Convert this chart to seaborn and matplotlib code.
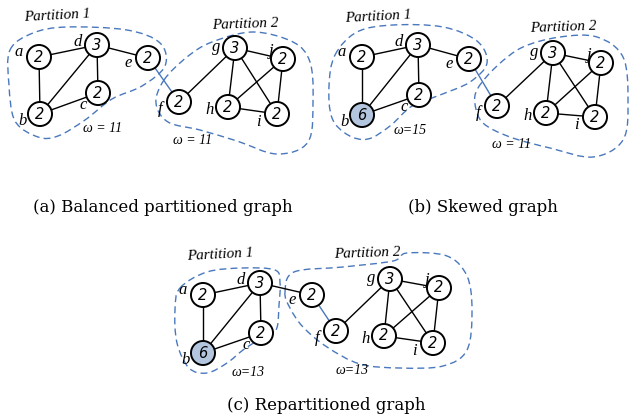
"""
Three small partitioned graphs: balanced, skewed, repartitioned.
Drawn on one pixel-scaled axes (0..630 x 0..417).
"""
import numpy as np
import pandas as pd
import matplotlib
matplotlib.use('Agg')
import matplotlib.pyplot as plt
from matplotlib.path import Path
from matplotlib.patches import PathPatch
import seaborn as sns

# ---- graph data -----------------------------------------------------------
NODES = ["a", "b", "c", "d", "e", "f", "g", "h", "i", "j"]
EDGES = [("a", "d"), ("a", "b"), ("b", "d"), ("b", "c"), ("d", "c"), ("d", "e"),
         ("e", "f"), ("f", "g"), ("g", "j"), ("g", "h"), ("g", "i"),
         ("j", "h"), ("j", "i"), ("h", "i")]
CUT_EDGE = ("e", "f")

weights_balanced = [2, 2, 2, 3, 2, 2, 3, 2, 2, 2]
weights_skewed   = [2, 6, 2, 3, 2, 2, 3, 2, 2, 2]
weights_repart   = [2, 6, 2, 3, 2, 2, 3, 2, 2, 2]
hot_node = "b"

# node layout per panel (pixel coords)
x_balanced = [39, 40, 98, 97, 148, 179, 235, 228, 277, 283]
y_balanced = [57, 114, 93, 45, 58, 102, 48, 107, 114, 59]
x_skewed   = [362, 362, 419, 418, 469, 497, 553, 546, 595, 601]
y_skewed   = [57, 115, 95, 45, 59, 106, 53, 113, 117, 63]
x_repart   = [203, 203, 261, 260, 312, 336, 390, 384, 433, 439]
y_repart   = [295, 353, 333, 283, 295, 331, 279, 336, 343, 288]

# letter label offset from node centre
label_dx = [-20, -17, -15, -19, -20, -19, -19, -18, -19, -12]
label_dy = [-5, 7, 12, -3, 5, 7, -1, 3, 8, -8]

omega_balanced = ["ω = 11", "ω = 11"]
omega_skewed   = ["ω=15", "ω = 11"]
omega_repart   = ["ω=13", "ω=13"]

captions = ["(a) Balanced partitioned graph", "(b) Skewed graph", "(c) Repartitioned graph"]

# partition outlines (dashed blobs)
p1_balanced = [(10, 50), (33, 33), (67, 27), (127, 30), (160, 43), (165, 66), (142, 86),
               (112, 99), (85, 120), (58, 136), (38, 137), (15, 121), (9, 85)]
p2_balanced = [(164, 80), (187, 57), (212, 42), (253, 32), (293, 42), (310, 62), (313, 100),
               (308, 142), (277, 154), (237, 141), (200, 130), (168, 122), (156, 103)]
p1_skewed   = [(335, 55), (357, 32), (393, 25), (443, 27), (477, 41), (487, 63), (470, 82),
               (440, 95), (412, 106), (390, 126), (368, 139), (348, 135), (332, 118), (329, 86)]
p2_skewed   = [(478, 88), (497, 66), (523, 47), (560, 37), (597, 37), (623, 57), (628, 100),
               (623, 140), (593, 157), (550, 148), (510, 137), (483, 123), (475, 104)]
p1_repart   = [(180, 288), (207, 272), (243, 268), (275, 270), (280, 283), (279, 305),
               (276, 330), (260, 339), (243, 350), (227, 363), (207, 373), (189, 368),
               (177, 343), (175, 310)]
p2_repart   = [(285, 292), (294, 272), (343, 267), (393, 261), (407, 253), (447, 256),
               (467, 276), (472, 310), (467, 350), (443, 366), (400, 368), (360, 364),
               (327, 347), (303, 327), (290, 308)]

panels = [
    dict(x=x_balanced, y=y_balanced, w=weights_balanced, hot=False, omega=omega_balanced,
         blobs=[p1_balanced, p2_balanced],
         part_pos=[(57, 16, 3), (245, 24, 2)], omega_pos=[(103, 128), (193, 141)],
         cap=(163, 207)),
    dict(x=x_skewed, y=y_skewed, w=weights_skewed, hot=True, omega=omega_skewed,
         blobs=[p1_skewed, p2_skewed],
         part_pos=[(378, 17, 3), (563, 27, 2)], omega_pos=[(410, 130), (512, 145)],
         cap=(483, 207)),
    dict(x=x_repart, y=y_repart, w=weights_repart, hot=True, omega=omega_repart,
         blobs=[p1_repart, p2_repart],
         part_pos=[(220, 255, 3), (367, 253, 2)], omega_pos=[(248, 372), (352, 370)],
         cap=(326, 405)),
]

BLUE = '#4a78bd'
HOT = '#b3c6de'


def blob_path(pts):
    # closed Catmull-Rom outline through the given points, as cubic Beziers
    p = np.asarray(pts, float)
    n = len(p)
    verts, codes = [p[0]], [Path.MOVETO]
    for k in range(n):
        p0, p1, p2, p3 = p[k - 1], p[k], p[(k + 1) % n], p[(k + 2) % n]
        verts += [p1 + (p2 - p0) / 6, p2 - (p3 - p1) / 6, p2]
        codes += [Path.CURVE4] * 3
    return Path(verts, codes)


sns.set_theme(style="white")
plt.rcParams['font.family'] = ['DejaVu Serif']
plt.rcParams['text.color'] = 'black'

fig = plt.figure(figsize=(6.3, 4.17), dpi=100)
ax = fig.add_axes([0, 0, 1, 1])

serif_it = dict(family='Liberation Serif', style='italic')

for pnl in panels:
    df = pd.DataFrame({'node': NODES, 'x': pnl['x'], 'y': pnl['y'], 'w': pnl['w']})
    df['hot'] = pnl['hot'] & (df['node'] == hot_node)
    pos = df.set_index('node')

    # partitions
    for blob in pnl['blobs']:
        ax.add_patch(PathPatch(blob_path(blob), fill=False, ec=BLUE, lw=1.0,
                               ls=(0, (5, 3)), zorder=1))

    # edges
    for u, v in EDGES:
        col = BLUE if (u, v) == CUT_EDGE else 'black'
        ax.plot([pos.loc[u, 'x'], pos.loc[v, 'x']], [pos.loc[u, 'y'], pos.loc[v, 'y']],
                color=col, lw=1.0, zorder=2)

    # nodes
    sns.scatterplot(data=df, x='x', y='y', hue='hot', palette={False: 'white', True: HOT},
                    s=300, edgecolor='black', linewidth=1.4, legend=False, ax=ax, zorder=3)
    for _, r in df.iterrows():
        ax.text(r['x'], r['y'], str(r['w']), ha='center', va='center', fontsize=10.5,
                family='DejaVu Sans', style='italic', color='black', zorder=4)
        k = NODES.index(r['node'])
        ax.text(r['x'] + label_dx[k], r['y'] + label_dy[k], r['node'], ha='center',
                va='center', fontsize=12, color='black', zorder=4, **serif_it)

    for (px, py, rot), name in zip(pnl['part_pos'], ["Partition 1", "Partition 2"]):
        ax.text(px, py, name, ha='center', va='center', fontsize=11, rotation=rot,
                color='black', **serif_it)
    for (ox, oy), lab in zip(pnl['omega_pos'], pnl['omega']):
        ax.text(ox, oy, lab, ha='center', va='center', fontsize=10, color='black', **serif_it)

for pnl, cap in zip(panels, captions):
    ax.text(pnl['cap'][0], pnl['cap'][1], cap, ha='center', va='center', fontsize=12,
            family='DejaVu Serif', color='black')

ax.set_xlim(0, 630)
ax.set_ylim(417, 0)
ax.axis('off')

fig.savefig('out.png', dpi=100)
